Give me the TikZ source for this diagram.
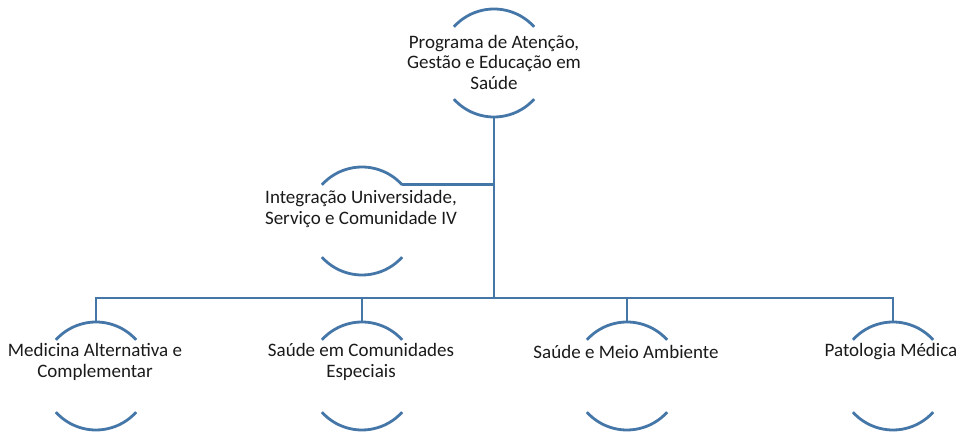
\documentclass[tikz,border=0pt]{standalone}
\usepackage{fontspec}
\setmainfont{Carlito}
\definecolor{lineblue}{RGB}{68,118,168}
\definecolor{txt}{RGB}{26,26,26}
\begin{document}
\begin{tikzpicture}[x=1pt,y=1pt,
  holder/.style={circle,draw=none,minimum size=108pt,inner sep=0pt,outer sep=0pt},
  lbl/.style={align=center,inner sep=0pt,text=txt,font=\fontsize{19}{20.5}\selectfont},
  arcline/.style={draw=lineblue,line width=2.8pt},
  conn/.style={draw=lineblue,line width=2.9pt}]
\useasboundingbox (0,0) rectangle (963,433);
% circle holders
\node[holder] (c0) at (494,370) {};
\node[holder] (ci) at (362,212) {};
\node[holder] (c1) at (96,57) {};
\node[holder] (c2) at (362,57) {};
\node[holder] (c3) at (627,57) {};
\node[holder] (c4) at (893,57) {};
% arcs
\foreach \n in {c0,ci,c1,c2,c3,c4}{
  \draw[arcline] (\n.42) arc (42:138:54);
  \draw[arcline] (\n.222) arc (222:318:54);
}
% labels
\node[lbl] (t0) at (494,371) {Programa de Atenção,\\Gestão e Educação em\\Saúde};
\node[lbl] (ti) at (361,224) {Integração Universidade,\\Serviço e Comunidade IV};
\node[lbl] (t1) at (95,71) {Medicina Alternativa e\\Complementar};
\node[lbl] (t2) at (361,71) {Saúde em Comunidades\\Especiais};
\node[lbl] (t3) at (626,81) {Saúde e Meio Ambiente};
\node[lbl] (t4) at (891,81) {Patologia Médica};
% connectors
\coordinate (j) at (494,135);
\draw[conn] (c0.south) -- (j);
\draw[conn] (c0.south |- ci.42) -- (ci.42);
\foreach \n in {c1,c2,c3,c4}{
  \draw[conn] (\n.north) |- (j);
}
\end{tikzpicture}
\end{document}
